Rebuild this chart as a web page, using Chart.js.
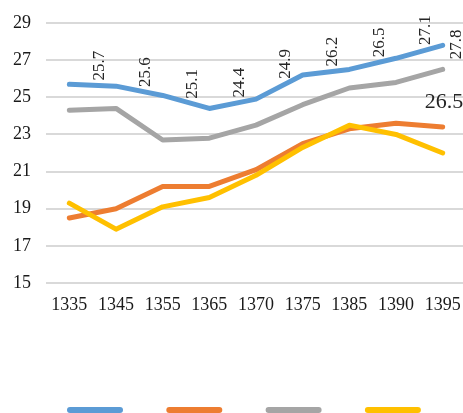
<!DOCTYPE html>
<html>
<head>
<meta charset="utf-8">
<script src="https://cdn.jsdelivr.net/npm/chart.js@4/dist/chart.umd.min.js"></script>
<style>
  html, body { margin: 0; padding: 0; background: #fff; overflow: hidden; }
  #caja { width: 468px; height: 413px; }
</style>
</head>
<body>
<div id="caja"><canvas id="grafica"></canvas></div>
<script>
const anios = ['1335', '1345', '1355', '1365', '1370', '1375', '1385', '1390', '1395'];
const serieAzul = [25.7, 25.6, 25.1, 24.4, 24.9, 26.2, 26.5, 27.1, 27.8];
const serieNaranja = [18.5, 19.0, 20.2, 20.2, 21.1, 22.5, 23.3, 23.6, 23.4];
const serieGris = [24.3, 24.4, 22.7, 22.8, 23.5, 24.6, 25.5, 25.8, 26.5];
const serieAmarilla = [19.3, 17.9, 19.1, 19.6, 20.8, 22.3, 23.5, 23.0, 22.0];
const ejeMin = 15;
const ejeMax = 29;
const ejePaso = 2;

const fuente = "'Liberation Serif', 'Times New Roman', serif";

function linea(data, color, orden) {
    return {
        data,
        borderColor: color,
        backgroundColor: color,
        borderWidth: 5,
        pointRadius: 0,
        tension: 0,
        borderCapStyle: 'round',
        borderJoinStyle: 'round',
        order: orden
    };
}

// etiquetas de la serie azul (giradas) y la ultima de la gris
const etiquetas = {
    id: 'etiquetas',
    afterDatasetsDraw(chart) {
        const ctx = chart.ctx;
        const azul = chart.getDatasetMeta(0).data;
        ctx.save();
        ctx.fillStyle = '#262626';
        ctx.font = '17px ' + fuente;
        azul.forEach((p, i) => {
            const sig = azul[i + 1];
            let lx, ly;
            if (sig) {
                lx = p.x + 0.64 * (sig.x - p.x);
                ly = p.y + 0.64 * (sig.y - p.y) - 5;
            } else {
                lx = p.x + 14;
                ly = p.y + 14;
            }
            ctx.save();
            ctx.translate(lx, ly);
            ctx.rotate(-Math.PI / 2);
            ctx.textAlign = 'left';
            ctx.textBaseline = 'middle';
            ctx.fillText(serieAzul[i].toFixed(1), 0, 0);
            ctx.restore();
        });
        const gris = chart.getDatasetMeta(2).data;
        const ult = gris[gris.length - 1];
        ctx.font = '22px ' + fuente;
        ctx.textAlign = 'left';
        ctx.textBaseline = 'alphabetic';
        ctx.fillText(serieGris[serieGris.length - 1].toFixed(1), ult.x - 18, ult.y + 39);
        ctx.restore();
    }
};

// leyenda: solo las muestras de color, sin texto
const leyenda = {
    id: 'leyenda',
    afterDraw(chart) {
        const ctx = chart.ctx;
        const inicio = chart.chartArea.left + 21;
        ctx.save();
        ctx.lineWidth = 6;
        ctx.lineCap = 'round';
        chart.data.datasets.forEach((ds, i) => {
            const x = inicio + i * 99.3;
            ctx.strokeStyle = ds.borderColor;
            ctx.beginPath();
            ctx.moveTo(x + 3, 410);
            ctx.lineTo(x + 53, 410);
            ctx.stroke();
        });
        ctx.restore();
    }
};

const graficas = document.getElementById('grafica');
window.grafica = new Chart(graficas, {
    type: 'line',
    data: {
        labels: anios,
        datasets: [
            linea(serieAzul, '#5b9bd5', 4),
            linea(serieNaranja, '#ed7d31', 3),
            linea(serieGris, '#a5a5a5', 2),
            linea(serieAmarilla, '#ffc000', 1)
        ]
    },
    options: {
        responsive: true,
        maintainAspectRatio: false,
        animation: false,
        layout: { padding: { top: 23, left: 13, right: 2, bottom: 97 } },
        plugins: {
            legend: { display: false },
            tooltip: { enabled: false }
        },
        scales: {
            x: {
                offset: true,
                grid: { display: false, drawTicks: false },
                border: { display: false },
                ticks: {
                    padding: 11,
                    color: '#1a1a1a',
                    font: { family: fuente, size: 18 },
                    maxRotation: 0,
                    autoSkip: false
                },
                afterFit(s) {
                    s.height = 33;
                    s.paddingLeft = 0;
                    s.paddingRight = 0;
                }
            },
            y: {
                min: ejeMin,
                max: ejeMax,
                grid: { color: '#d9d9d9', lineWidth: 2, drawTicks: false },
                border: { display: false },
                ticks: {
                    stepSize: ejePaso,
                    padding: 15,
                    color: '#1a1a1a',
                    font: { family: fuente, size: 18 }
                },
                afterFit(s) {
                    s.width = 33;
                    s.paddingTop = 0;
                    s.paddingBottom = 0;
                }
            }
        }
    },
    plugins: [etiquetas, leyenda]
});
</script>
</body>
</html>
